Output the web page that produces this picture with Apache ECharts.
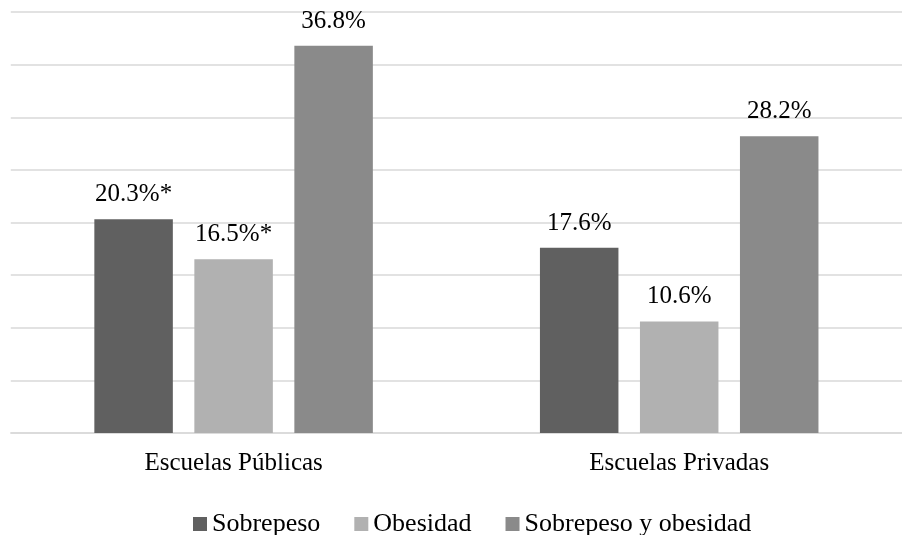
<!DOCTYPE html>
<html>
<head>
<meta charset="utf-8">
<script src="https://cdn.jsdelivr.net/npm/echarts@6/dist/echarts.min.js"></script>
<style>html,body{margin:0;padding:0;background:#fff;}#c{width:902px;height:535px;}</style>
</head>
<body>
<div id="c"></div>
<script>
const categories = ['Escuelas Públicas', 'Escuelas Privadas'];
const seriesNames = ['Sobrepeso', 'Obesidad', 'Sobrepeso y obesidad'];
const sobrepeso = [20.3, 17.6];
const obesidad = [16.5, 10.6];
const sobrepesoYObesidad = [36.8, 28.2];
const sobrepesoMarks = ['*', ''];
const obesidadMarks = ['*', ''];
const sobrepesoYObesidadMarks = ['', ''];
const yMin = 0, yMax = 40, yInterval = 5;

const FONT = '"Liberation Serif", "DejaVu Serif", serif';
const colors = ['#606060', '#b1b1b1', '#8a8a8a'];
const values = [sobrepeso, obesidad, sobrepesoYObesidad];
const marks = [sobrepesoMarks, obesidadMarks, sobrepesoYObesidadMarks];

const chart = echarts.init(document.getElementById('c'), null, {renderer: 'canvas'});
chart.setOption({
  animation: false,
  backgroundColor: '#fff',
  grid: {left: 10.8, width: 900, top: 12, bottom: 102, containLabel: false},
  legend: {
    data: seriesNames,
    left: 188, top: 506,
    itemWidth: 14, itemHeight: 14, itemGap: 34,
    icon: 'rect',
    textStyle: {fontFamily: FONT, fontSize: 26, color: '#000'}
  },
  xAxis: {
    type: 'category',
    data: categories,
    axisLine: {show: true, lineStyle: {color: '#d9d9d9', width: 1.5}},
    axisTick: {show: false},
    axisLabel: {fontFamily: FONT, fontSize: 25, color: '#000', margin: 18}
  },
  yAxis: {
    type: 'value', min: yMin, max: yMax, interval: yInterval,
    axisLine: {show: false}, axisTick: {show: false}, axisLabel: {show: false},
    splitLine: {lineStyle: {color: '#d9d9d9', width: 1.5}}
  },
  series: seriesNames.map((name, i) => ({
    name: name,
    type: 'bar',
    data: values[i],
    barWidth: 78.5,
    barGap: '27.4%',
    itemStyle: {color: colors[i]},
    label: {
      show: true, position: 'top', distance: 12,
      fontFamily: FONT, fontSize: 25, color: '#000',
      formatter: p => p.value.toFixed(1) + '%' + marks[i][p.dataIndex]
    }
  }))
});
</script>
</body>
</html>
